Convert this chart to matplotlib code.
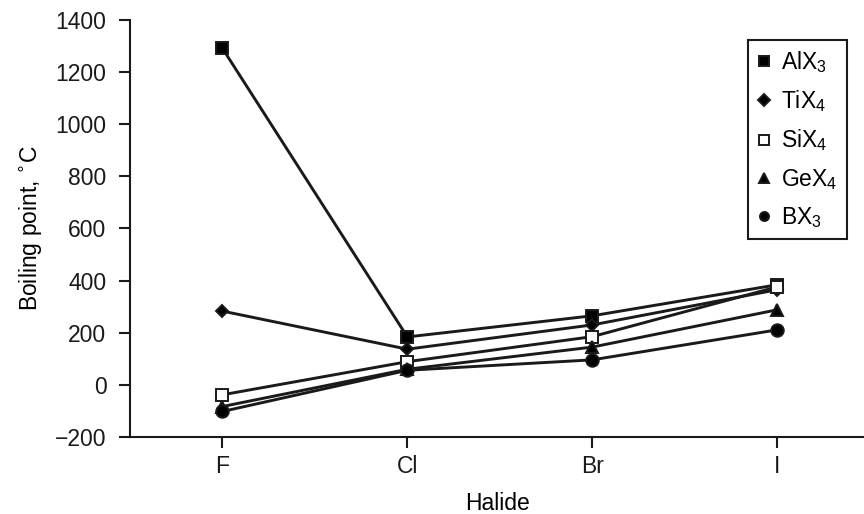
import numpy as np
import matplotlib.pyplot as plt

plt.rcParams['font.family'] = ['Liberation Sans', 'DejaVu Sans']

halides = ['F', 'Cl', 'Br', 'I']

# boiling points (deg C)
alx3 = [1291, 184, 265, 384]
tix4 = [283, 137, 230, 365]
six4 = [-38, 89, 185, 376]
gex4 = [-83, 60, 145, 288]
bx3 = [-102, 56, 96, 211]

series = [
    ('AlX$_\\mathregular{3}$', alx3, 's', 'black'),
    ('TiX$_\\mathregular{4}$', tix4, 'D', 'black'),
    ('SiX$_\\mathregular{4}$', six4, 's', 'white'),
    ('GeX$_\\mathregular{4}$', gex4, '^', 'black'),
    ('BX$_\\mathregular{3}$', bx3, 'o', 'black'),
]
msizes = {'s': 8.5, 'D': 6.5, '^': 9, 'o': 9}

fig = plt.figure(figsize=(8.64, 5.14), dpi=100)
ax = fig.add_axes([0.1505, 0.1498, 0.8495, 0.8113])

x = np.arange(len(halides))
for label, vals, mk, fc in series:
    ax.plot(x, vals, color='#1a1a1a', linewidth=2.1, marker=mk,
            markersize=msizes[mk], markerfacecolor=fc,
            markeredgecolor='#1a1a1a', markeredgewidth=1.4, label=label)

ax.set_xlim(-0.5, 3.47)
ax.set_ylim(-200, 1400)
ax.set_xticks(x)
ax.set_xticklabels(halides)
ax.set_yticks(np.arange(-200, 1401, 200))
ax.set_yticklabels(['\u2212200'] + [str(v) for v in range(0, 1401, 200)])

for s in ('top', 'right'):
    ax.spines[s].set_visible(False)
for s in ('left', 'bottom'):
    ax.spines[s].set_linewidth(1.5)
    ax.spines[s].set_color('#1a1a1a')
ax.tick_params(direction='out', length=8, width=1.5, labelsize=16.5,
               colors='#1a1a1a', pad=5)
ax.tick_params(axis='y', pad=9)

ax.set_xlabel('Halide', fontsize=16.5, labelpad=10)
ax.set_ylabel('Boiling point, $^{\\circ}$C', fontsize=16.5, labelpad=8)

leg = ax.legend(loc='upper right', bbox_to_anchor=(0.977, 0.952),
                fontsize=16.5, frameon=True, fancybox=False,
                edgecolor='#1a1a1a', borderpad=0.4, labelspacing=0.58,
                handlelength=0.6, handletextpad=0.45, borderaxespad=0)
leg.get_frame().set_linewidth(1.5)
leg.get_frame().set_alpha(1)
for h in leg.legend_handles:
    h.set_linestyle('none')
    h.set_markersize(6.5)

fig.savefig('out.png', dpi=100)
